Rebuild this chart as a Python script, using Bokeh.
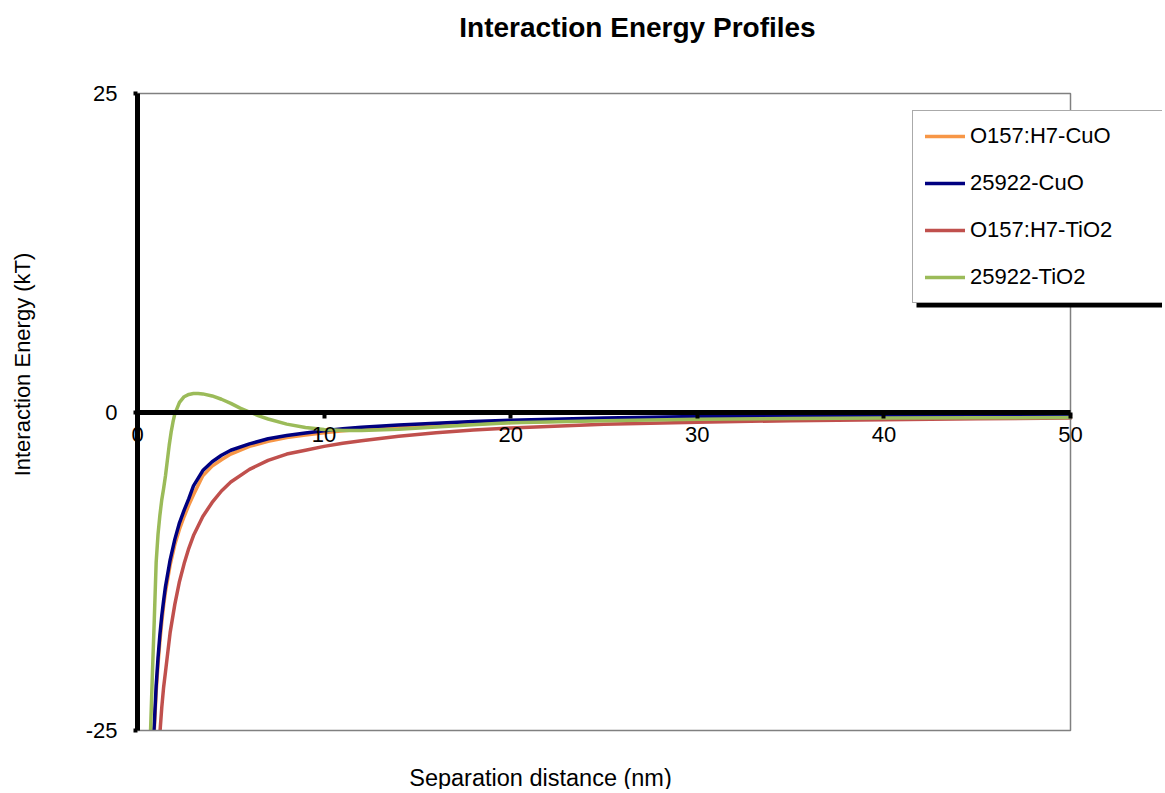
import math
from bokeh.plotting import figure
from bokeh.models import Range1d, Legend, LegendItem, Label, FixedTicker, BoxAnnotation
from bokeh.embed import file_html
from bokeh.resources import INLINE

# ---- data ----
x_cuo_o157 = [0.8, 0.9, 1.0, 1.1, 1.2, 1.3, 1.4, 1.5, 1.75, 2.0, 2.25, 2.5, 2.75, 3.0, 3.5, 4.0, 4.5, 5.0,
              6.0, 7.0, 8.0, 9.0, 10, 11, 12, 14, 16, 18, 20, 25, 30, 35, 40, 45, 50]
y_cuo_o157 = [-28.0, -25.0, -22.0, -19.8, -18.0, -16.5, -15.2, -14.1, -12.0, -10.4, -9.2, -8.2, -7.3, -6.5,
              -5.0, -4.25, -3.75, -3.3, -2.7, -2.3, -2.0, -1.8, -1.62, -1.48, -1.36, -1.18, -1.03, -0.92,
              -0.83, -0.63, -0.5, -0.42, -0.36, -0.32, -0.29]

x_cuo_25922 = [0.8, 0.9, 1.0, 1.1, 1.2, 1.3, 1.4, 1.5, 1.75, 2.0, 2.25, 2.5, 2.75, 3.0, 3.5, 4.0, 4.5, 5.0,
               6.0, 7.0, 8.0, 9.0, 10, 11, 12, 14, 16, 18, 20, 25, 30, 35, 40, 45, 50]
y_cuo_25922 = [-27.0, -24.5, -21.5, -19.3, -17.5, -16.0, -14.8, -13.7, -11.6, -10.0, -8.7, -7.7, -6.8, -5.8,
               -4.6, -3.9, -3.4, -3.0, -2.5, -2.1, -1.85, -1.65, -1.48, -1.32, -1.2, -1.02, -0.88, -0.75,
               -0.65, -0.47, -0.36, -0.3, -0.26, -0.23, -0.21]

x_tio2_o157 = [1.1, 1.2, 1.3, 1.4, 1.5, 1.75, 2.0, 2.25, 2.5, 2.75, 3.0, 3.5, 4.0, 4.5, 5.0,
               6.0, 7.0, 8.0, 9.0, 10, 11, 12, 14, 16, 18, 20, 25, 30, 35, 40, 45, 50]
y_tio2_o157 = [-27.3, -25.2, -23.2, -21.6, -20.4, -17.3, -15.1, -13.3, -11.9, -10.7, -9.7, -8.2, -7.1, -6.2,
               -5.5, -4.5, -3.8, -3.3, -3.0, -2.7, -2.45, -2.25, -1.9, -1.62, -1.42, -1.25, -0.97, -0.8,
               -0.68, -0.6, -0.53, -0.48]

x_tio2_25922 = [0.6, 0.7, 0.8, 0.9, 1.0, 1.1, 1.2, 1.3, 1.4, 1.5, 1.6, 1.7, 1.8, 1.9, 2.0, 2.25, 2.5, 2.75,
                3.0, 3.25, 3.5, 4.0, 4.5, 5.0, 5.5, 6.0, 6.5, 7.0, 8.0, 9.0, 10, 11, 12, 14, 16, 18, 20,
                25, 30, 35, 40, 45, 50]
y_tio2_25922 = [-31.0, -25.0, -20.5, -16.3, -11.8, -9.6, -8.1, -6.9, -6.0, -5.0, -3.8, -2.6, -1.6, -0.8,
                -0.15, 0.75, 1.2, 1.38, 1.45, 1.46, 1.42, 1.26, 1.0, 0.68, 0.3, 0.0, -0.3, -0.55, -0.95,
                -1.22, -1.38, -1.45, -1.45, -1.35, -1.18, -1.0, -0.85, -0.68, -0.57, -0.52, -0.48, -0.46,
                -0.44]

series_names = ["O157:H7-CuO", "25922-CuO", "O157:H7-TiO2", "25922-TiO2"]
series_colors = ["#F79646", "#000080", "#C0504D", "#9BBB59"]
x_ticks = [0, 10, 20, 30, 40, 50]
y_ticks = [-25, 0, 25]
x_min, x_max = 0, 50
y_min, y_max = -25, 25

FONT = "Liberation Sans"

# ---- layout: the frame fills the canvas; the data box sits at these pixels ----
W, H = 1162, 789
PX_L, PX_R, PY_T, PY_B = 137, 1070, 93, 730
sx = (PX_R - PX_L) / (x_max - x_min)
sy = (PY_B - PY_T) / (y_max - y_min)
xr = Range1d(x_min - PX_L / sx, x_max + (W - PX_R) / sx)
yr = Range1d(y_min - (H - PY_B) / sy, y_max + PY_T / sy)

p = figure(width=W, height=H, output_backend="svg", toolbar_location=None,
           x_range=xr, y_range=yr, min_border=0)
p.xgrid.visible = False
p.ygrid.visible = False
p.outline_line_color = None
p.background_fill_color = "white"
p.border_fill_color = "white"

# axes crossing at the origin
for ax in (p.xaxis[0], p.yaxis[0]):
    ax.fixed_location = 0
    ax.axis_line_color = "black"
    ax.axis_line_width = 5
    ax.major_tick_line_color = "black"
    ax.major_tick_line_width = 4
    ax.major_tick_in = 0
    ax.minor_tick_line_color = None
    ax.major_label_text_font = FONT
    ax.major_label_text_font_size = "22px"
    ax.major_label_text_color = "black"

p.xaxis[0].ticker = FixedTicker(ticks=x_ticks)
p.xaxis[0].bounds = (x_min, x_max)
p.xaxis[0].major_tick_out = 6
p.xaxis[0].major_label_standoff = 9
p.yaxis[0].ticker = FixedTicker(ticks=y_ticks)
p.yaxis[0].bounds = (y_min, y_max)
p.yaxis[0].major_tick_out = 4
p.yaxis[0].major_label_standoff = 16
p.yaxis[0].major_label_overrides = {t: str(t) for t in y_ticks}

xs = [x_cuo_o157, x_cuo_25922, x_tio2_o157, x_tio2_25922]
ys = [y_cuo_o157, y_cuo_25922, y_tio2_o157, y_tio2_25922]
renderers = []
for xv, yv, c in zip(xs, ys, series_colors):
    r = p.line(xv, yv, line_color=c, line_width=3.5, line_join="round", line_cap="round")
    renderers.append(r)

# hide the parts of the curves below the plot area's bottom
p.quad(left=xr.start, right=xr.end, top=y_min, bottom=yr.start,
       fill_color="white", line_color=None)

# plot-area border (top, right, bottom); drawn beneath the axes
p.line([x_min, x_max, x_max, x_min], [y_max, y_max, y_min, y_min],
       line_color="#808080", line_width=1.5)

# legend with a drop shadow
LEG_L, LEG_B = 912, 303
LEG_W, LEG_H = 270, 183
p.add_layout(BoxAnnotation(left=LEG_L + 4, right=LEG_L + LEG_W + 4,
                           bottom=H - LEG_B - 4, top=H - LEG_B + LEG_H - 4,
                           left_units="screen", right_units="screen",
                           bottom_units="screen", top_units="screen",
                           fill_color="black", fill_alpha=1.0, line_color=None))

items = [LegendItem(label=n, renderers=[r]) for n, r in zip(series_names, renderers)]
legend = Legend(items=items, location=(LEG_L, H - LEG_B), margin=0, padding=12, spacing=21,
                glyph_width=40, glyph_height=24, label_height=24, label_standoff=5,
                label_width=LEG_W - 24 - 45,
                label_text_font=FONT, label_text_font_size="22px", label_text_color="black",
                border_line_color="#555555", border_line_width=1,
                background_fill_color="white", background_fill_alpha=1.0)
p.add_layout(legend)

# title and axis titles
p.add_layout(Label(x=637, y=H - 27, x_units="screen", y_units="screen", text="Interaction Energy Profiles",
                   text_font=FONT, text_font_size="28px", text_font_style="bold",
                   text_align="center", text_baseline="middle", text_color="black"))
p.add_layout(Label(x=540, y=H - 777, x_units="screen", y_units="screen", text="Separation distance (nm)",
                   text_font=FONT, text_font_size="23.5px",
                   text_align="center", text_baseline="middle", text_color="black"))
p.add_layout(Label(x=22, y=H - 364, x_units="screen", y_units="screen", text="Interaction Energy (kT)",
                   angle=math.pi / 2, text_font=FONT, text_font_size="22px",
                   text_align="center", text_baseline="middle", text_color="black"))

open("out.html", "w").write(file_html(p, INLINE))
